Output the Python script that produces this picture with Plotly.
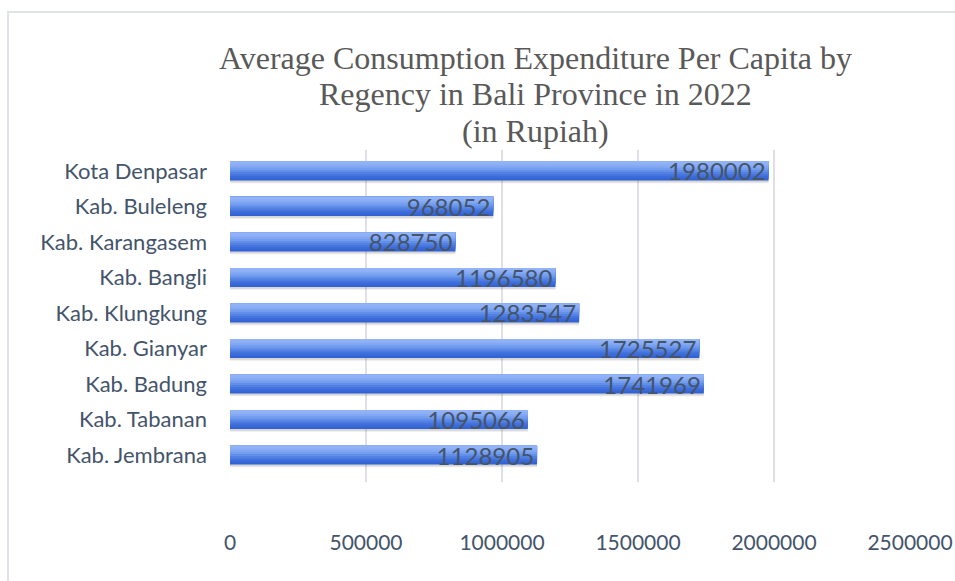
import plotly.graph_objects as go

categories = ["Kab. Jembrana", "Kab. Tabanan", "Kab. Badung", "Kab. Gianyar",
              "Kab. Klungkung", "Kab. Bangli", "Kab. Karangasem", "Kab. Buleleng",
              "Kota Denpasar"]
values = [1128905, 1095066, 1741969, 1725527, 1283547, 1196580, 828750, 968052, 1980002]
x_ticks = [0, 500000, 1000000, 1500000, 2000000, 2500000]
title_lines = ["Average Consumption Expenditure Per Capita by",
               "Regency in Bali Province in 2022",
               "(in Rupiah)"]

# gradient stripes, bottom (dark) to top (light)
stripe_colors = ["#3262d4", "#3a69d8", "#4573dd", "#5281e3", "#6290e9",
                 "#739def", "#82a7f3", "#8daff6", "#93b3f7"]
bar_w = 0.54
n = len(stripe_colors)
sw = bar_w / n
pos = list(range(len(categories)))

fig = go.Figure()

# soft shadow
for dy, a in [(0.075, 0.12), (0.045, 0.14)]:
    fig.add_trace(go.Bar(
        y=pos, x=values, orientation="h",
        width=bar_w, offset=-bar_w / 2 - dy,
        marker=dict(color=f"rgba(90,90,90,{a})", line=dict(width=0)),
        hoverinfo="skip", showlegend=False,
    ))

for i, c in enumerate(stripe_colors):
    fig.add_trace(go.Bar(
        y=pos, x=values, orientation="h",
        width=bar_w - i * sw, offset=-bar_w / 2 + i * sw,
        marker=dict(color=c, line=dict(width=0)),
        hoverinfo="skip", showlegend=False,
    ))

# labels
fig.add_trace(go.Bar(
    y=pos, x=values, orientation="h",
    width=bar_w, offset=-bar_w / 2,
    marker=dict(color="rgba(0,0,0,0)", line=dict(width=0)),
    text=[str(v) for v in values], textposition="inside",
    insidetextanchor="end", constraintext="none",
    textfont=dict(family="Lato", size=24, color="#44546a"),
    showlegend=False,
))

W, H = 955, 581
ml, mr, mt, mb = 230, 45, 150, 99
pw, ph = W - ml - mr, H - mt - mb

title_anns = []
for k, line in enumerate(title_lines):
    ypx = 58 + k * 36.5
    title_anns.append(dict(
        text=line, showarrow=False, xref="paper", yref="paper",
        x=(535 - ml) / pw, y=(mt + ph - ypx) / ph,
        xanchor="center", yanchor="middle",
        font=dict(family="Liberation Serif", size=32, color="#595959"),
    ))

fig.update_layout(
    width=W, height=H,
    margin=dict(l=ml, r=mr, t=mt, b=mb, pad=0, autoexpand=False),
    barmode="overlay",
    paper_bgcolor="white", plot_bgcolor="white",
    annotations=title_anns,
    xaxis=dict(
        range=[0, 2500000], tickvals=x_ticks, ticktext=[str(t) for t in x_ticks],
        showgrid=True, gridcolor="#dde1e6", gridwidth=1.5, zeroline=False,
        showline=False, ticks="", ticklabelstandoff=46, automargin=False,
        tickfont=dict(family="Lato", size=21, color="#44546a"),
    ),
    yaxis=dict(
        range=[-0.76, 8.59], tickvals=pos, ticktext=categories,
        showgrid=False, zeroline=False, showline=False, ticks="",
        ticklabelstandoff=22, automargin=False,
        tickfont=dict(family="Lato", size=22, color="#44546a"),
    ),
    shapes=[dict(
        type="rect", xref="paper", yref="paper",
        x0=(8 - ml) / pw, x1=(965 - ml) / pw,
        y0=(mt + ph - 595) / ph, y1=(mt + ph - 12) / ph,
        line=dict(color="#dfe2e6", width=2), fillcolor="rgba(0,0,0,0)",
        layer="below",
    )],
)

fig.write_html("out.html")
